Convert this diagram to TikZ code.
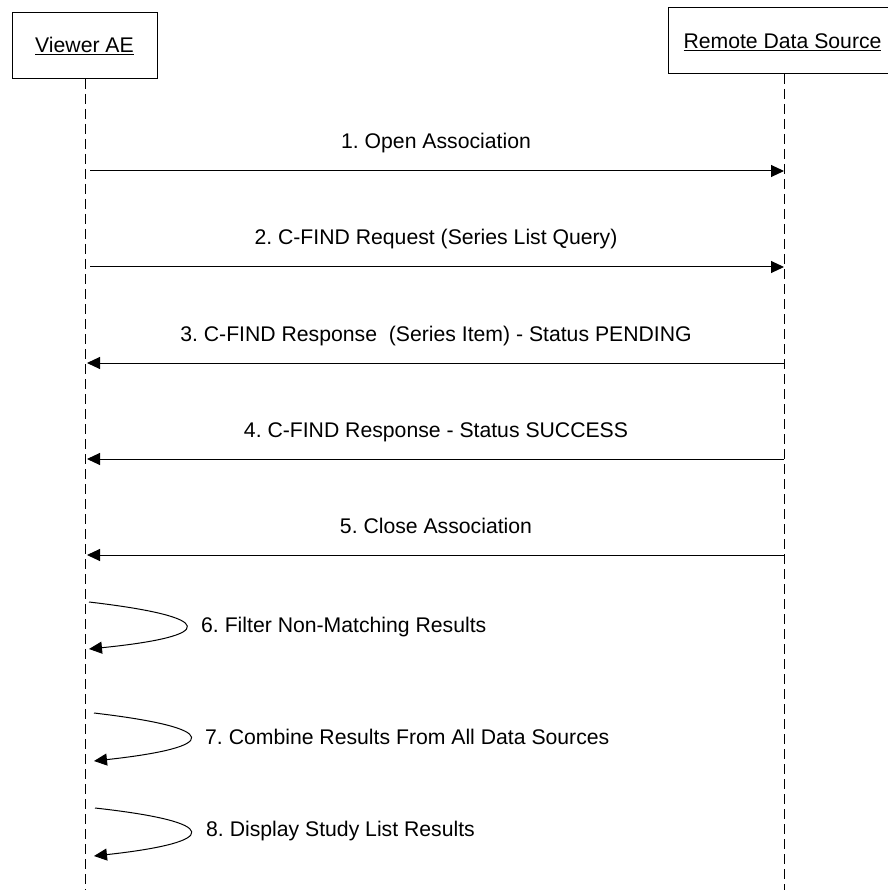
\documentclass[tikz,border=0pt]{standalone}
\usepackage{fontspec}
\setmainfont{Liberation Sans}
\usetikzlibrary{arrows.meta}
\frenchspacing
\begin{document}
\begin{tikzpicture}[x=1pt,y=-1pt,
  every node/.style={font=\fontsize{21.2}{24}\selectfont, inner sep=0pt},
  actor/.style={draw, line width=1pt, fill=white},
  lifeline/.style={line width=1pt, dash pattern=on 10pt off 5pt},
  msg/.style={line width=1pt, -{Triangle[length=13pt,width=12pt]}},
  lbl/.style={anchor=base},
  looplbl/.style={anchor=west}]
\useasboundingbox (0,0) rectangle (887,890);
% lifelines
\coordinate (la) at (85,79);
\coordinate (lb) at (85,890);
\coordinate (ra) at (784,74);
\coordinate (rb) at (784,890);
\draw[lifeline] (la) -- (lb);
\draw[lifeline] (ra) -- (rb);
% actor boxes
\draw[actor] (12.5,12.5) rectangle (157,79);
\node[lbl] (viewer) at (84.5,53) {\underline{Viewer AE}};
\draw[actor] (668,7.5) rectangle (900,74);
\node[lbl] (remote) at (782.5,49) {\underline{Remote Data Source}};
% messages
\coordinate (m1a) at (90,171);  \coordinate (m1b) at (784,171);
\coordinate (m2a) at (90,267);  \coordinate (m2b) at (784,267);
\coordinate (m3a) at (784,363); \coordinate (m3b) at (87,363);
\coordinate (m4a) at (784,459); \coordinate (m4b) at (87,459);
\coordinate (m5a) at (784,555); \coordinate (m5b) at (87,555);
\draw[msg] (m1a) -- (m1b);
\draw[msg] (m2a) -- (m2b);
\draw[msg] (m3a) -- (m3b);
\draw[msg] (m4a) -- (m4b);
\draw[msg] (m5a) -- (m5b);
\node[lbl] (t1) at (436,149) {1. Open Association};
\node[lbl] (t2) at (436,245) {2. C-FIND Request (Series List Query)};
\node[lbl] (t3) at (436,341) {3. C-FIND Response\ \ (Series Item) - Status PENDING};
\node[lbl] (t4) at (436,437) {4. C-FIND Response - Status SUCCESS};
\node[lbl] (t5) at (436,533) {5. Close Association};
% self loops
\coordinate (s6a) at (89,602); \coordinate (s6b) at (89,649);
\coordinate (s7a) at (94,713); \coordinate (s7b) at (94,761);
\coordinate (s8a) at (95,808); \coordinate (s8b) at (94,856);
\draw[msg] (s6a) .. controls (218,617) and (218,636) .. (s6b);
\draw[msg] (s7a) .. controls (222,728) and (222,747) .. (s7b);
\draw[msg] (s8a) .. controls (222,822) and (222,842) .. (s8b);
\node[looplbl] (t6) at (201,627) {6. Filter Non-Matching Results};
\node[looplbl] (t7) at (205,737) {7. Combine Results From All Data Sources};
\node[looplbl] (t8) at (206,831) {8. Display Study List Results};
\end{tikzpicture}
\end{document}
